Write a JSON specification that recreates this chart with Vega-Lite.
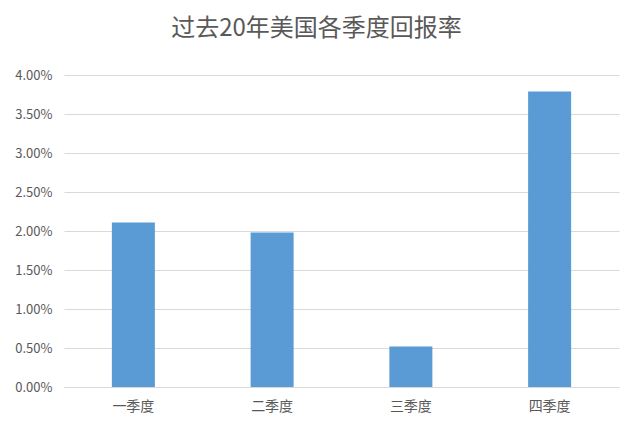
{
  "$schema": "https://vega.github.io/schema/vega-lite/v6.json",
  "autosize": {"type": "none"},
  "width": 555,
  "height": 312,
  "padding": {"left": 64, "top": 75, "right": 25, "bottom": 49},
  "background": "white",
  "title": {
    "text": "过去20年美国各季度回报率",
    "anchor": "middle",
    "dx": -25,
    "offset": 28,
    "font": "Noto Sans CJK SC",
    "fontSize": 24,
    "fontWeight": "normal",
    "color": "#595959"
  },
  "config": {
    "view": {"stroke": null},
    "font": "Noto Sans CJK SC"
  },
  "data": {
    "values": [
      {"quarter": "一季度", "ret": 0.0211},
      {"quarter": "二季度", "ret": 0.0198},
      {"quarter": "三季度", "ret": 0.0052},
      {"quarter": "四季度", "ret": 0.0379}
    ]
  },
  "mark": {"type": "bar", "color": "#5b9bd5"},
  "encoding": {
    "x": {
      "field": "quarter",
      "type": "nominal",
      "sort": null,
      "scale": {"paddingInner": 0.69, "paddingOuter": 0.345},
      "axis": {
        "title": null,
        "labelAngle": 0,
        "labelFontSize": 14,
        "labelColor": "#595959",
        "labelPadding": 12,
        "ticks": false,
        "domainColor": "#d9d9d9"
      }
    },
    "y": {
      "field": "ret",
      "type": "quantitative",
      "scale": {"domain": [0, 0.04], "nice": false},
      "axis": {
        "title": null,
        "format": ".2%",
        "values": [0, 0.005, 0.01, 0.015, 0.02, 0.025, 0.03, 0.035, 0.04],
        "labelFontSize": 13,
        "labelColor": "#595959",
        "labelPadding": 12,
        "ticks": false,
        "domain": false,
        "gridColor": "#d9d9d9",
        "gridWidth": 1
      }
    }
  }
}
